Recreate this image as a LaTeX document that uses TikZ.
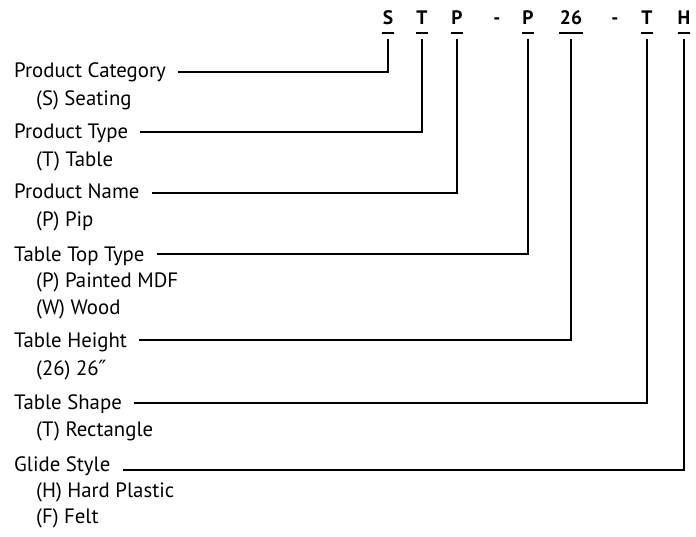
\documentclass[tikz,border=0pt]{standalone}
\usepackage{fontspec}
\setmainfont{PT Sans}
\newfontfamily\primefont{DejaVu Sans}

\begin{document}
\begin{tikzpicture}[
    x=1pt, y=-1pt,
    field/.style={anchor=base west, inner sep=0pt, font=\fontsize{20.8}{24}\selectfont},
    option/.style={anchor=base west, inner sep=0pt, font=\fontsize{20.8}{24}\selectfont},
    code/.style={anchor=base, inner sep=0pt, font=\fontsize{19.5}{22}\selectfont\bfseries},
    bar/.style={line width=2pt},
    lead/.style={line width=2pt}
]
\useasboundingbox (0,0) rectangle (696,536);

% Code letters
\node (cS) [code] at (388,24) {S};
\node (cT) [code] at (422,24) {T};
\node (cP) [code] at (457,24) {P};
\node (d1) [code] at (497,24) {-};
\node (cTop) [code] at (528,24) {P};
\node (cHt) [code] at (571,24) {26};
\node (d2) [code] at (615,24) {-};
\node (cShp) [code] at (647,24) {T};
\node (cGl) [code] at (684,24) {H};

% Underbars
\foreach \c in {cS, cT, cP, cTop, cShp, cGl}
    \draw [bar] ([xshift=-6pt, yshift=-9pt]\c.base) -- ++(12,0);
\draw [bar] ([xshift=-12pt, yshift=-9pt]cHt.base) -- ++(24,0);

% Fields
\node (cat) [field] at (14,77) {Product Category};
\node (typ) [field] at (14,138) {Product Type};
\node (nam) [field] at (14,198) {Product Name};
\node (top) [field] at (14,261) {Table Top Type};
\node (hgt) [field] at (14,347) {Table Height};
\node (shp) [field] at (14,409) {Table Shape};
\node (gld) [field] at (14,471) {Glide Style};

% Options
\node (o1) [option] at (36,105) {(S) Seating};
\node (o2) [option] at (36,166) {(T) Table};
\node (o3) [option] at (36,226) {(P) Pip};
\node (o4) [option] at (36,287) {(P) Painted MDF};
\node (o5) [option] at (36,314) {(W) Wood};
\node (o6) [option] at (36,375) {(26) 26{\primefont\fontsize{21}{24}\selectfont″}};
\node (o7) [option] at (36,436) {(T) Rectangle};
\node (o8) [option] at (36,497) {(H) Hard Plastic};
\node (o9) [option] at (36,523) {(F) Felt};

% Leads
\draw [lead] ([xshift=12pt, yshift=5pt]cat.base east) -| ([yshift=-15pt]cS.base);
\draw [lead] ([xshift=12pt, yshift=6pt]typ.base east) -| ([yshift=-15pt]cT.base);
\draw [lead] ([xshift=12pt, yshift=5pt]nam.base east) -| ([yshift=-15pt]cP.base);
\draw [lead] ([xshift=12pt, yshift=7pt]top.base east) -| ([yshift=-15pt]cTop.base);
\draw [lead] ([xshift=12pt, yshift=7pt]hgt.base east) -| ([yshift=-15pt]cHt.base);
\draw [lead] ([xshift=12pt, yshift=6pt]shp.base east) -| ([yshift=-15pt]cShp.base);
\draw [lead] ([xshift=12pt, yshift=1pt]gld.base east) -| ([yshift=-15pt]cGl.base);

\end{tikzpicture}
\end{document}
